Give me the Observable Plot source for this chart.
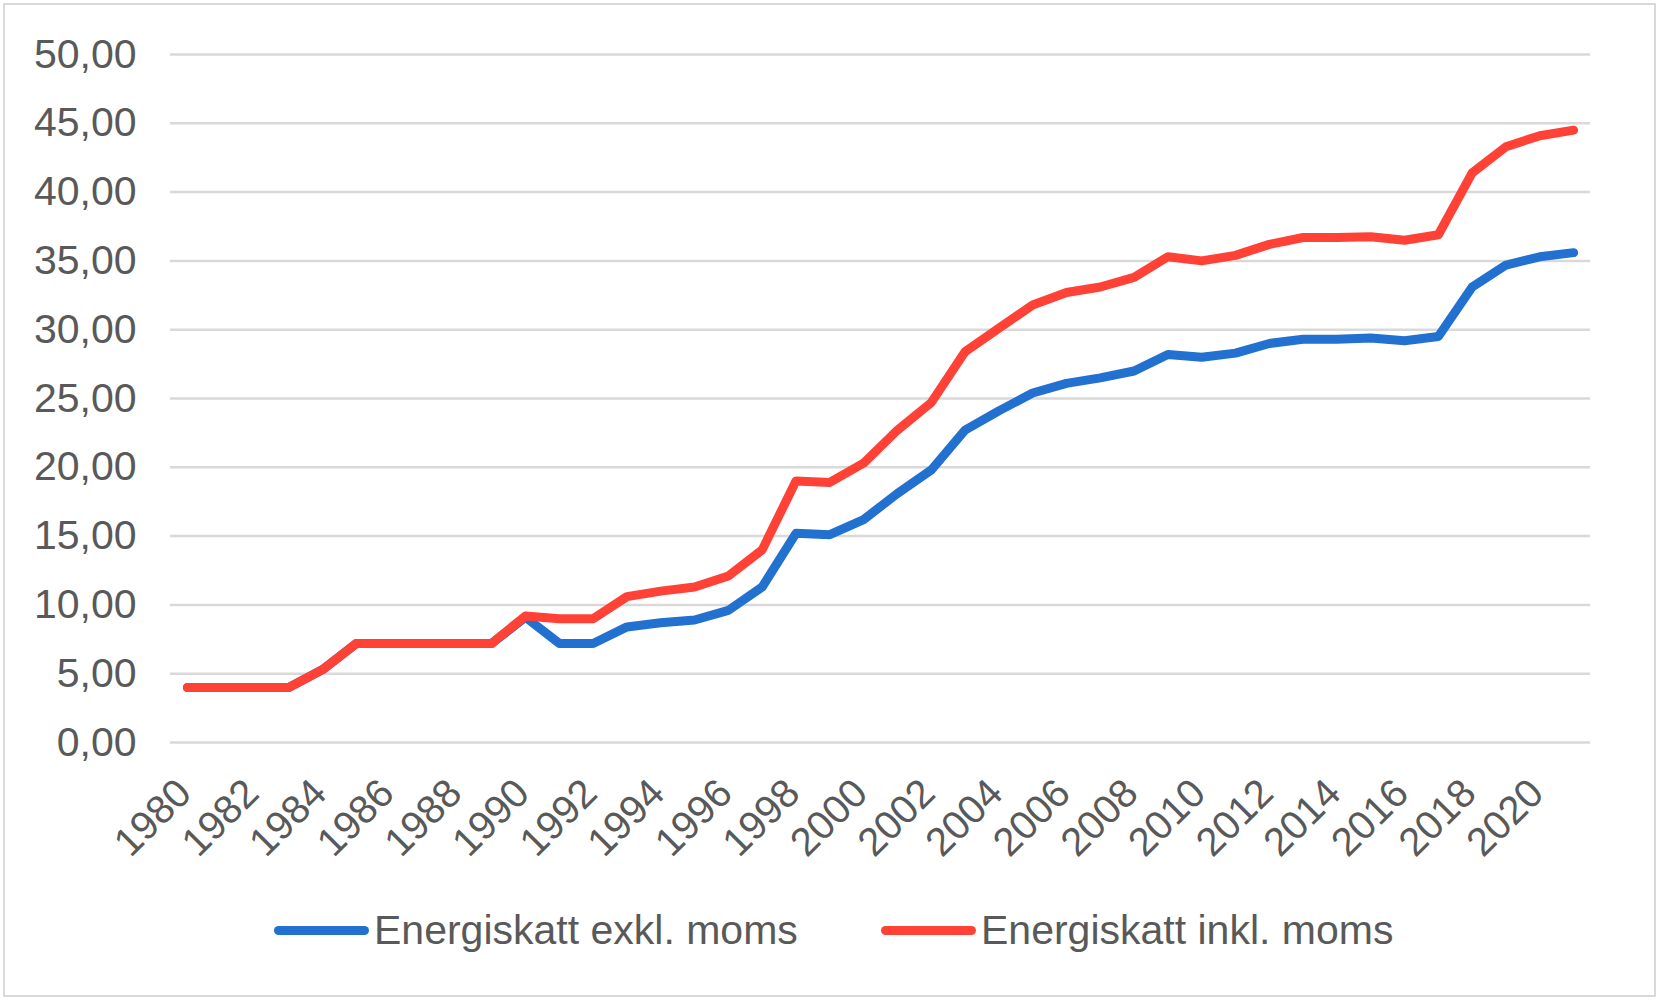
<!DOCTYPE html>
<html>
<head>
<meta charset="utf-8">
<script src="https://cdn.jsdelivr.net/npm/d3@7"></script>
<script src="https://cdn.jsdelivr.net/npm/@observablehq/plot@0.6"></script>
<style>
  html, body { margin: 0; padding: 0; background: #fff; }
  body { width: 1659px; height: 1003px; position: relative; overflow: hidden; font-family: "Liberation Sans", Arial, sans-serif; }
  #frame { position: absolute; left: 3px; top: 3px; width: 1649px; height: 990px; border: 2px solid #d9d9d9; box-sizing: content-box; }
  #chart { position: absolute; left: 0; top: 0; }
  .leg { position: absolute; top: 908px; height: 44px; display: flex; align-items: center; font-size: 41px; color: #595959; white-space: nowrap; }
  .sw { display: inline-block; width: 95px; height: 9px; border-radius: 5px; margin-right: 5px; }
</style>
</head>
<body>
<div id="frame"></div>
<div id="chart"></div>
<div class="leg" style="left:274px"><span class="sw" style="background:#2270d0"></span><span id="l1"></span></div>
<div class="leg" style="left:881px"><span class="sw" style="background:#ff4136"></span><span id="l2"></span></div>
<script>
const years = [1980,1981,1982,1983,1984,1985,1986,1987,1988,1989,1990,1991,1992,1993,1994,1995,1996,1997,1998,1999,2000,2001,2002,2003,2004,2005,2006,2007,2008,2009,2010,2011,2012,2013,2014,2015,2016,2017,2018,2019,2020,2021];
const exklMoms = [4.0,4.0,4.0,4.0,5.3,7.2,7.2,7.2,7.2,7.2,9.1,7.2,7.2,8.4,8.7,8.9,9.6,11.3,15.2,15.1,16.2,18.1,19.8,22.7,24.1,25.4,26.1,26.5,27.0,28.2,28.0,28.3,29.0,29.3,29.3,29.4,29.2,29.5,33.1,34.7,35.3,35.6];
const inklMoms = [4.0,4.0,4.0,4.0,5.3,7.2,7.2,7.2,7.2,7.2,9.2,9.0,9.0,10.6,11.0,11.3,12.1,14.0,19.0,18.9,20.3,22.7,24.7,28.4,30.1,31.8,32.7,33.1,33.8,35.3,35.0,35.4,36.2,36.7,36.7,36.75,36.5,36.9,41.4,43.3,44.1,44.5];
const seriesNames = ["Energiskatt exkl. moms", "Energiskatt inkl. moms"];
const xTicks = [1980,1982,1984,1986,1988,1990,1992,1994,1996,1998,2000,2002,2004,2006,2008,2010,2012,2014,2016,2018,2020];
const yTicks = [0,5,10,15,20,25,30,35,40,45,50];

const exkl = years.map((y, i) => ({year: y, value: exklMoms[i]}));
const inkl = years.map((y, i) => ({year: y, value: inklMoms[i]}));

document.getElementById("l1").textContent = seriesNames[0];
document.getElementById("l2").textContent = seriesNames[1];

const chart = Plot.plot({
  width: 1659,
  height: 880,
  marginLeft: 170,
  marginRight: 69,
  marginTop: 54,
  marginBottom: 138,
  style: {fontFamily: "'Liberation Sans', Arial, sans-serif", fontSize: "41px", color: "#595959", background: "transparent"},
  x: {domain: [1979.5, 2021.5]},
  y: {domain: [0, 50]},
  marks: [
    Plot.ruleY(yTicks, {stroke: "#d9d9d9", strokeWidth: 2.5}),
    Plot.axisY({ticks: yTicks, tickSize: 0, tickPadding: 34, tickFormat: d => d.toFixed(2).replace(".", ","), fill: "#595959", fontSize: 41, label: null}),
    Plot.axisX({ticks: xTicks, tickSize: 0, tickRotate: -45, tickPadding: 44, dx: -3, tickFormat: d => `${d}`, fill: "#595959", fontSize: 40, label: null}),
    Plot.line(exkl, {x: "year", y: "value", stroke: "#2270d0", strokeWidth: 9, strokeLinecap: "round", strokeLinejoin: "round"}),
    Plot.line(inkl, {x: "year", y: "value", stroke: "#ff4136", strokeWidth: 9, strokeLinecap: "round", strokeLinejoin: "round"})
  ]
});
document.getElementById("chart").appendChild(chart);
</script>
</body>
</html>
